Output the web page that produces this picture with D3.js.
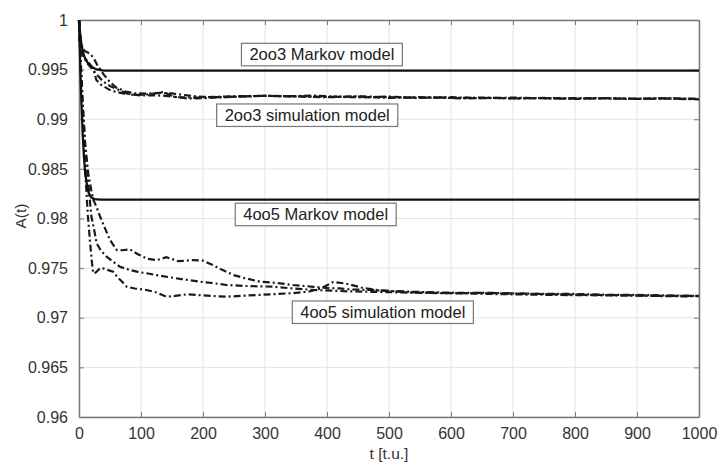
<!DOCTYPE html>
<html><head><meta charset="utf-8">
<script src="https://cdn.jsdelivr.net/npm/d3@7"></script>
<style>body{margin:0;background:#fff}svg{display:block}</style>
</head><body>
<svg id="c" width="719" height="463"></svg>
<script>
const xTicks = [0,100,200,300,400,500,600,700,800,900,1000];
const xTickLabels = ["0","100","200","300","400","500","600","700","800","900","1000"];
const yTicks = [0.96,0.965,0.97,0.975,0.98,0.985,0.99,0.995,1];
const yTickLabels = ["0.96","0.965","0.97","0.975","0.98","0.985","0.99","0.995","1"];

const markov2oo3_t = [0,2,4,7,10,15,20,28,40,1000];
const markov2oo3_v = [1,0.9985,0.9975,0.9966,0.9961,0.9956,0.9953,0.99502,0.9949,0.9949];
const markov4oo5_t = [0,2,4,6,8,10,13,16,20,25,35,1000];
const markov4oo5_v = [1,0.9955,0.9915,0.9885,0.9862,0.9846,0.9833,0.9825,0.9821,0.98195,0.9819,0.9819];

const sim2oo3a_t = [0,3,6,10,15,20,25,30,40,50,60,75,90,110,130,150,175,200,230,260,300,340,380,420,460,500,540,580,620,660,700,750,800,850,900,950,1000];
const sim2oo3a_v = [1,0.9978,0.9971,0.99685,0.9967,0.99645,0.996,0.9954,0.9945,0.99375,0.9932,0.9928,0.99262,0.99258,0.99265,0.9926,0.9924,0.99225,0.99222,0.9923,0.99236,0.99232,0.99238,0.99225,0.9922,0.99228,0.99218,0.9922,0.9921,0.99215,0.9921,0.99212,0.99205,0.99212,0.99205,0.99208,0.992];
const sim2oo3b_t = [0,3,6,10,15,20,28,39,50,61,70,82,95,110,125,136,152,174,200,230,260,300,350,400,450,500,550,600,650,700,760,820,880,940,1000];
const sim2oo3b_v = [1,0.9975,0.9965,0.996,0.9955,0.99515,0.99455,0.9938,0.99335,0.99305,0.9928,0.99248,0.99245,0.9925,0.99262,0.99275,0.99228,0.9921,0.99212,0.99222,0.99228,0.99235,0.9923,0.99226,0.99232,0.99222,0.99215,0.99222,0.99212,0.99218,0.9921,0.99214,0.99206,0.9921,0.99205];
const sim2oo3c_t = [0,4,8,15,23,28,35,50,60,71,85,100,120,140,160,190,220,260,300,350,400,450,500,550,600,650,700,750,800,850,900,950,1000];
const sim2oo3c_v = [1,0.9969,0.9963,0.99575,0.9951,0.99395,0.9935,0.99294,0.99275,0.99261,0.9925,0.9924,0.99242,0.99236,0.99222,0.99218,0.99226,0.99232,0.99236,0.9923,0.99222,0.99228,0.99215,0.99222,0.99214,0.99218,0.9921,0.99215,0.99208,0.99212,0.99206,0.99212,0.99204];

const sim4oo5a_t = [0,3,6,10,15,20,23,28,34,42,50,61,70,82,95,110,125,141,160,184,200,216,232,249,270,292,320,345,378,400,420,440,470,500,540,580,620,660,700,750,800,850,900,950,1000];
const sim4oo5a_v = [1,0.9955,0.9915,0.9875,0.9845,0.9828,0.9819,0.9812,0.9802,0.979,0.97783,0.97682,0.9768,0.9769,0.9764,0.97595,0.9758,0.9761,0.9757,0.9758,0.97575,0.9753,0.9748,0.9743,0.97395,0.97363,0.9735,0.9733,0.97312,0.973,0.97295,0.97285,0.9728,0.9727,0.97262,0.97255,0.9725,0.97252,0.97245,0.9724,0.9724,0.97232,0.9723,0.97225,0.9722];
const sim4oo5b_t = [0,3,6,10,15,20,24,28.5,35,44.6,55,66,80,95,109,125,141,165,195,215,238,270,313,345,378,410,440,480,520,560,600,650,700,760,820,880,940,1000];
const sim4oo5b_v = [1,0.9955,0.9915,0.9872,0.9835,0.9802,0.979,0.9775,0.9768,0.97615,0.97565,0.97514,0.97485,0.97462,0.97448,0.9743,0.97413,0.9739,0.97363,0.9735,0.9733,0.9732,0.97313,0.97295,0.9728,0.97272,0.97265,0.9726,0.97255,0.9725,0.97248,0.9725,0.97245,0.97238,0.9723,0.97228,0.9722,0.9722];
const sim4oo5c_t = [0,3,6,10,14,18,21,23,27,34,40,47,55,62,70,77,90,109,125,141,155,174,200,220,238,265,292,320,345,370,390,410,430,455,480,510,540,580,620,680,740,800,860,920,980,1000];
const sim4oo5c_v = [1,0.9945,0.99,0.985,0.9805,0.9775,0.9755,0.97448,0.97455,0.975,0.97495,0.9748,0.97464,0.9741,0.9736,0.97312,0.97295,0.9728,0.97255,0.97212,0.9722,0.97236,0.97225,0.97218,0.97212,0.97222,0.9723,0.9724,0.97248,0.97262,0.97295,0.9736,0.97345,0.97305,0.9728,0.97265,0.97255,0.9725,0.97245,0.97238,0.97232,0.97228,0.97225,0.9722,0.97215,0.97218];

const labelTexts = ["2oo3 Markov model","2oo3 simulation model","4oo5 Markov model","4oo5 simulation model"];
const labelT = [262, 222, 252, 344];          // left edge of each label box (t units)
const labelV = [0.99765, 0.99154, 0.98154, 0.97169]; // top edge of each label box (A units)

const svg = d3.select("#c");
const x = d3.scaleLinear().domain([0,1000]).range([79,699]);
const y = d3.scaleLinear().domain([0.96,1]).range([417,20]);
const font = "'Liberation Sans', Arial, sans-serif";

// grid
svg.append("g").selectAll("line").data(xTicks).join("line")
  .attr("x1",d=>x(d)).attr("x2",d=>x(d)).attr("y1",y(0.96)).attr("y2",y(1))
  .attr("stroke","#e3e3e3").attr("stroke-width",1);
svg.append("g").selectAll("line").data(yTicks).join("line")
  .attr("y1",d=>y(d)).attr("y2",d=>y(d)).attr("x1",x(0)).attr("x2",x(1000))
  .attr("stroke","#e3e3e3").attr("stroke-width",1);

// axes
const axCol = "#7a7a7a";
const gx = svg.append("g").attr("transform",`translate(0,${y(0.96)})`)
  .call(d3.axisBottom(x).tickValues(xTicks).tickSizeInner(-5).tickSizeOuter(0).tickPadding(11)
    .tickFormat((d,i)=>xTickLabels[i]));
const gxt = svg.append("g").attr("transform",`translate(0,${y(1)})`)
  .call(d3.axisTop(x).tickValues(xTicks).tickSizeInner(-5).tickSizeOuter(0).tickFormat(""));
const gy = svg.append("g").attr("transform",`translate(${x(0)},0)`)
  .call(d3.axisLeft(y).tickValues(yTicks).tickSizeInner(-5).tickSizeOuter(0).tickPadding(11)
    .tickFormat((d,i)=>yTickLabels[i]));
const gyr = svg.append("g").attr("transform",`translate(${x(1000)},0)`)
  .call(d3.axisRight(y).tickValues(yTicks).tickSizeInner(-5).tickSizeOuter(0).tickFormat(""));
[gx,gxt,gy,gyr].forEach(g=>{
  g.select(".domain").attr("stroke",axCol).attr("stroke-width",1.5);
  g.selectAll(".tick line").attr("stroke",axCol).attr("stroke-width",1);
  g.selectAll("text").attr("font-family",font).attr("font-size","16px").attr("fill","#333");
});

// axis titles
svg.append("text").attr("x",389).attr("y",459).attr("text-anchor","middle")
  .attr("font-family",font).attr("font-size","15.5px").attr("fill","#333").text("t [t.u.]");
svg.append("text").attr("transform","translate(26,216) rotate(-90)").attr("text-anchor","middle")
  .attr("font-family",font).attr("font-size","15.5px").attr("fill","#333").text("A(t)");

// lines
const line = d3.line().x(d=>x(d[0])).y(d=>y(d[1]));
const zip = (t,v)=>t.map((d,i)=>[d,v[i]]);
const lg = svg.append("g");
const sims = [[sim2oo3a_t,sim2oo3a_v],[sim2oo3b_t,sim2oo3b_v],[sim2oo3c_t,sim2oo3c_v],
              [sim4oo5a_t,sim4oo5a_v],[sim4oo5b_t,sim4oo5b_v],[sim4oo5c_t,sim4oo5c_v]];
sims.forEach(s=>{
  lg.append("path").datum(zip(s[0],s[1])).attr("d",line)
    .attr("fill","none").attr("stroke","#1a1a1a").attr("stroke-width",2.2)
    .attr("stroke-dasharray","7,3,2,3");
});
[[markov2oo3_t,markov2oo3_v],[markov4oo5_t,markov4oo5_v]].forEach(s=>{
  lg.append("path").datum(zip(s[0],s[1])).attr("d",line)
    .attr("fill","none").attr("stroke","#111").attr("stroke-width",2.3);
});

// labels
labelTexts.forEach((txt,i)=>{
  const g = svg.append("g");
  const bx = x(labelT[i]), by = y(labelV[i]);
  const tx = g.append("text").attr("x",bx+8).attr("y",by+17)
    .attr("font-family",font).attr("font-size","16.5px").attr("fill","#222").text(txt);
  const bb = tx.node().getBBox();
  g.insert("rect","text").attr("x",bx).attr("y",by).attr("width",bb.width+16).attr("height",22.5)
    .attr("fill","#fff").attr("stroke","#777").attr("stroke-width",1.2);
});
</script>
</body></html>
